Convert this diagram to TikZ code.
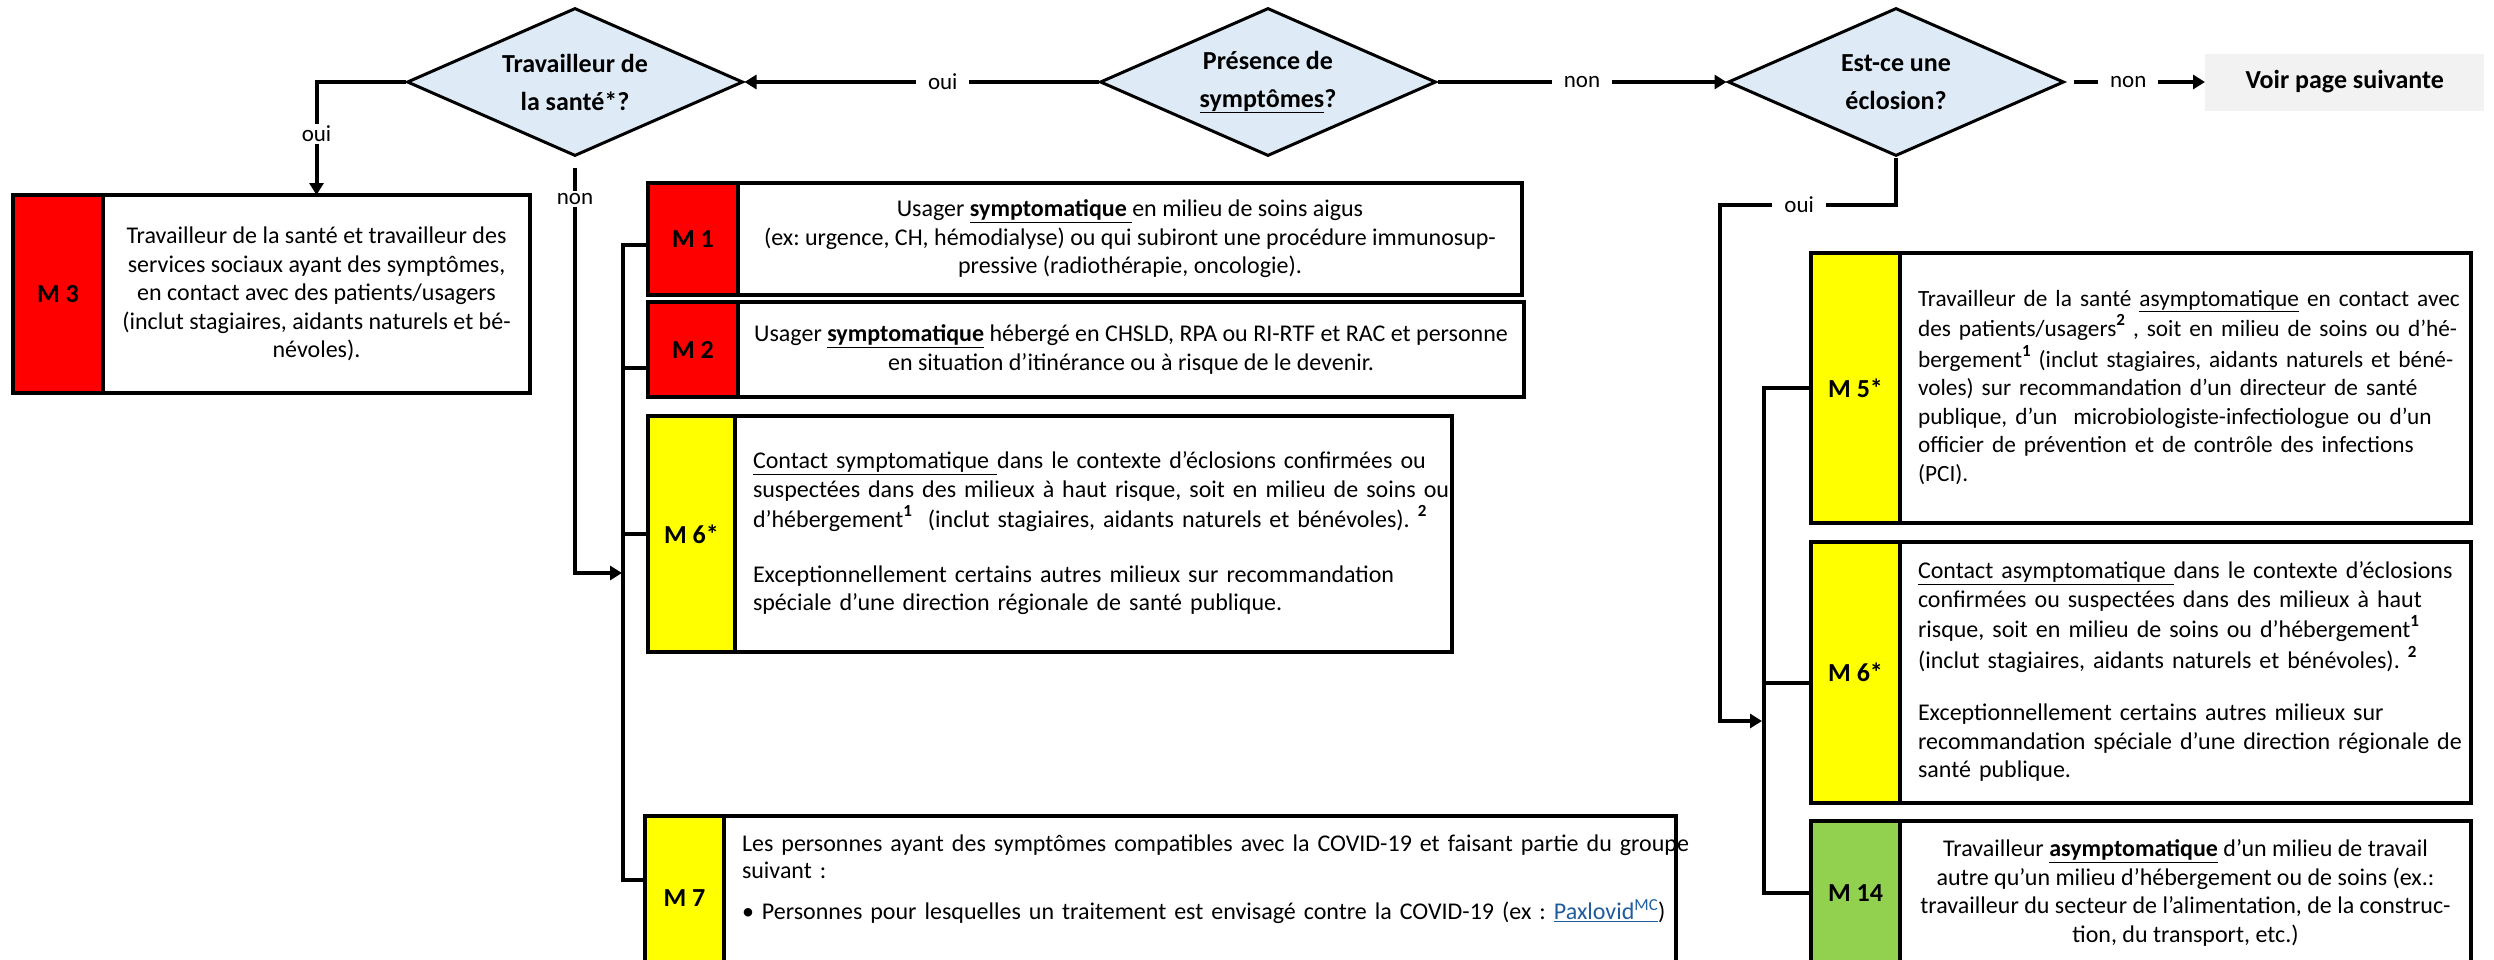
\documentclass[tikz,border=0pt]{standalone}
\usepackage{fontspec}
\setmainfont{Carlito}
\usetikzlibrary{positioning,shapes.geometric,arrows.meta}

\definecolor{askblue}{HTML}{DEEBF7}
\definecolor{mred}{HTML}{FF0000}
\definecolor{myellow}{HTML}{FFFF00}
\definecolor{mgreen}{HTML}{92D050}
\definecolor{nextgray}{HTML}{F2F2F2}
\definecolor{linkblue}{HTML}{1F5C9E}

% raised footnote number
\newcommand{\fnum}[1]{\raisebox{11pt}{\fontsize{17}{17}\selectfont\bfseries #1}}
\frenchspacing

\begin{document}
\begin{tikzpicture}[x=1pt, y=-1pt,
>={Triangle[length=12pt, width=14pt]},
% node styles
ask/.style={diamond, draw=black, line width=3pt, fill=askblue, aspect=2.27,
  minimum width=336pt, minimum height=148pt, inner sep=0pt, align=center,
  font=\fontsize{26}{38}\selectfont\bfseries},
lvl/.style={rectangle, draw=black, line width=3.5pt, outer sep=0pt, inner sep=0pt,
  font=\fontsize{26}{30}\selectfont\bfseries},
desc/.style={rectangle, draw=black, line width=3.5pt, outer sep=0pt, inner ysep=2pt,
  font=\fontsize{24}{28.5}\selectfont},
lefttext/.style={text width=#1, inner xsep=18pt, align=left},
nextbox/.style={rectangle, fill=nextgray, minimum width=279pt, minimum height=57pt,
  font=\fontsize{26}{30}\selectfont\bfseries},
conn/.style={line width=4pt},
lbl/.style={fill=white, inner xsep=12pt, inner ysep=2pt, font=\fontsize{23}{26}\selectfont}
]
\useasboundingbox (0,0) rectangle (2494,959);

% questions
\node[ask] (d2) at (1268,82) {Présence de\\\underline{symptômes}?};
\node[ask] (d1) [left=354pt of d2] {Travailleur de\\la santé*?};
\node[ask] (d3) [right=289pt of d2] {Est-ce une\\éclosion?};
\node[nextbox] (nextp) [right=139.5pt of d3] {Voir page suivante};

% M 3
\node[lvl, fill=mred, minimum width=90pt, minimum height=198pt, anchor=north west] (m3c) at (13,195) {M 3};
\node[desc, minimum width=427pt, minimum height=198pt, align=center] (m3t) [right=0pt of m3c] {
  Travailleur de la santé et travailleur des\\
  services sociaux ayant des symptômes,\\
  en contact avec des patients/usagers\\
  (inclut stagiaires, aidants naturels et bé-\\
  névoles).
};

% M 1, M 2
\node[lvl, fill=mred, minimum width=90pt, minimum height=112pt, anchor=north west] (m1c) at (648,183) {M 1};
\node[desc, minimum width=784pt, minimum height=112pt, align=center] (m1t) [right=0pt of m1c] {
  Usager \underline{\textbf{symptomatique} }en milieu de soins aigus\\
  (ex: urgence, CH, hémodialyse) ou qui subiront une procédure immunosup-\\
  pressive (radiothérapie, oncologie).
};
\node[lvl, fill=mred, minimum width=90pt, minimum height=95pt] (m2c) [below=7pt of m1c] {M 2};
\node[desc, minimum width=786pt, minimum height=95pt, align=center] (m2t) [right=0pt of m2c] {
  Usager \underline{\textbf{symptomatique}} hébergé en CHSLD, RPA ou RI-RTF et RAC et personne\\
  en situation d’itinérance ou à risque de le devenir.
};

% M 6* (symptomatique)
\node[lvl, fill=myellow, minimum width=87pt, minimum height=236pt, anchor=north west] (m6lc) at (648,416) {M 6*};
\node[desc, lefttext=681pt, minimum height=236pt] (m6lt) [right=0pt of m6lc] {
  \begin{tabular}{@{}l@{}}
  \underline{Contact symptomatique }dans le contexte d’éclosions confirmées ou\\
  suspectées dans des milieux à haut risque, soit en milieu de soins ou\\
  d’hébergement\fnum{1}\ \ (inclut stagiaires, aidants naturels et bénévoles). \fnum{2}\\[26pt]
  Exceptionnellement certains autres milieux sur recommandation\\
  spéciale d’une direction régionale de santé publique.
  \end{tabular}
};

% M 7
\node[lvl, fill=myellow, minimum width=79pt, minimum height=164pt, anchor=north west] (m7c) at (645,816) {M 7};
\node[desc, lefttext=916pt, minimum height=164pt] (m7t) [right=0pt of m7c] {
  \begin{tabular}{@{}l@{}}
  Les personnes ayant des symptômes compatibles avec la COVID-19 et faisant partie du groupe\\[-2pt]
  suivant :\\[13pt]
  • Personnes pour lesquelles un traitement est envisagé contre la COVID-19 (ex : \textcolor{linkblue}{\underline{Paxlovid\textsuperscript{MC}}})\\[36pt]
  \end{tabular}
};

% M 5*, M 6*, M 14
\node[lvl, fill=myellow, minimum width=89pt, minimum height=270pt, anchor=north west] (m5c) at (1811,253) {M 5*};
\node[desc, lefttext=535pt, minimum height=270pt] (m5t) [right=0pt of m5c] {
  \fontsize{23.3}{28.5}\selectfont
  \begin{tabular}{@{}l@{}}
  Travailleur de la santé \underline{asymptomatique} en contact avec\\
  des patients/usagers\fnum{2} , soit en milieu de soins ou d’hé-\\
  bergement\fnum{1} (inclut stagiaires, aidants naturels et béné-\\
  voles) sur recommandation d’un directeur de santé\\
  publique, d’un\ \ microbiologiste-infectiologue ou d’un\\
  officier de prévention et de contrôle des infections\\
  (PCI).
  \end{tabular}
};
\node[lvl, fill=myellow, minimum width=89pt, minimum height=261pt] (m6rc) [below=19pt of m5c] {M 6*};
\node[desc, lefttext=535pt, minimum height=261pt] (m6rt) [right=0pt of m6rc] {
  \begin{tabular}{@{}l@{}}
  \underline{Contact asymptomatique }dans le contexte d’éclosions\\
  confirmées ou suspectées dans des milieux à haut\\
  risque, soit en milieu de soins ou d’hébergement\fnum{1}\\
  (inclut stagiaires, aidants naturels et bénévoles). \fnum{2}\\[24pt]
  Exceptionnellement certains autres milieux sur\\
  recommandation spéciale d’une direction régionale de\\
  santé publique.
  \end{tabular}
};
\node[lvl, fill=mgreen, minimum width=89pt, minimum height=144pt] (m14c) [below=18pt of m6rc] {M 14};
\node[desc, minimum width=571pt, minimum height=144pt, align=center] (m14t) [right=0pt of m14c] {
  Travailleur \underline{\textbf{asymptomatique}} d’un milieu de travail\\
  autre qu’un milieu d’hébergement ou de soins (ex.:\\
  travailleur du secteur de l’alimentation, de la construc-\\
  tion, du transport, etc.)
};

% arrows between questions
\draw[conn,->] (d2.west) -- node[lbl, pos=0.44] {oui} (d1.east);
\draw[conn,->] (d2.east) -- node[lbl] {non} (d3.west);
\draw[conn,->, shorten <=8pt] (d3.east) -- node[lbl, pos=0.45] {non} (nextp.west);

% travailleur de la sante
\draw[conn,->] (d1.west) -| node[lbl, pos=0.73] {oui} (m3t.north);
\coordinate (jl) at (622,573);
\draw[conn,->, shorten <=10pt] (d1.south) |- node[lbl, pos=0.05] {non} (jl);

% left bracket
\draw[conn] ([yshift=-6pt]m1c.west) -- ++(-25pt,0) |- ([yshift=18pt]m7c.west);
\draw[conn] ([yshift=-18pt]m2c.west) -- ++(-25pt,0);
\draw[conn] (m6lc.west) -- ++(-25pt,0);

% eclosion
\coordinate (cr) at (1720,205);
\coordinate (jr) at (1762,721);
\draw[conn,->] (d3.south) |- node[lbl, pos=0.775] {oui} (cr) |- (jr);

% right bracket
\draw[conn] (m5c.west) -- ++(-47pt,0) |- (m14c.west);
\draw[conn] ([yshift=-10pt]m6rc.west) -- ++(-47pt,0);

\end{tikzpicture}
\end{document}
